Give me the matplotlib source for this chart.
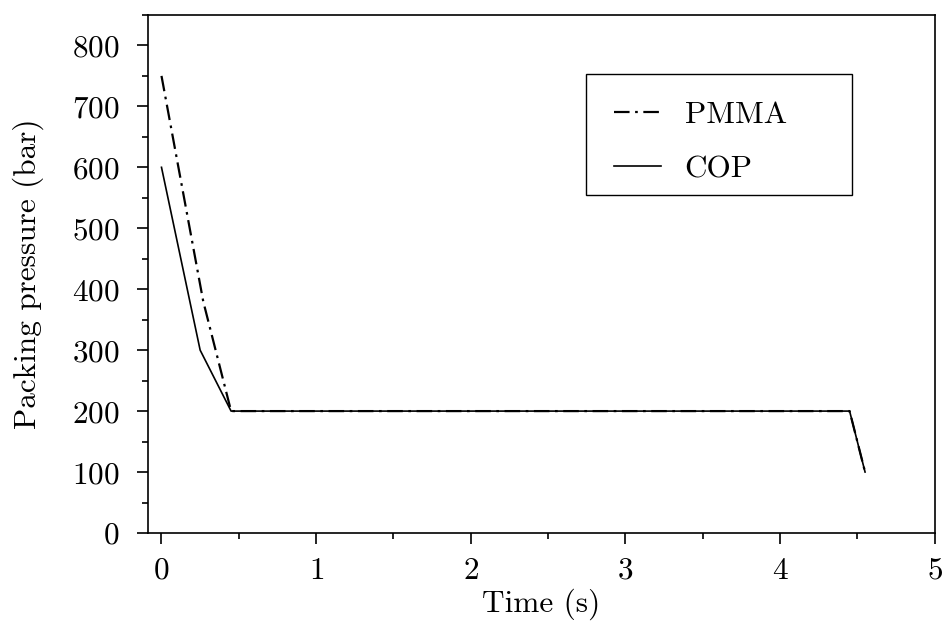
import matplotlib
matplotlib.use("Agg")
import matplotlib.pyplot as plt
from matplotlib.patches import Rectangle
from matplotlib.ticker import MultipleLocator

plt.rcParams["font.family"] = "serif"
plt.rcParams["font.serif"] = ["cmr10"]
plt.rcParams["mathtext.fontset"] = "cm"
plt.rcParams["axes.unicode_minus"] = False
plt.rcParams["axes.formatter.use_mathtext"] = True

# packing pressure profiles (time in s, pressure in bar)
t_pmma = [0.0, 0.27, 0.45, 4.45, 4.55]
p_pmma = [750, 380, 200, 200, 100]
t_cop = [0.0, 0.25, 0.45, 4.45, 4.55]
p_cop = [600, 300, 200, 200, 100]

FS = 22.5

fig = plt.figure(figsize=(9.46, 6.23), dpi=100)
ax = fig.add_axes([0.156, 0.1445, 0.832, 0.8315])

ax.plot(t_pmma, p_pmma, color="black", lw=1.6, linestyle=(0, (7, 2.5, 1.2, 2.5)), label="PMMA")
ax.plot(t_cop, p_cop, color="black", lw=1.2, label="COP")

ax.set_xlim(-0.09, 5)
ax.set_ylim(0, 850)
ax.xaxis.set_major_locator(MultipleLocator(1))
ax.xaxis.set_minor_locator(MultipleLocator(0.5))
ax.yaxis.set_major_locator(MultipleLocator(100))
ax.yaxis.set_minor_locator(MultipleLocator(50))
ax.tick_params(which="both", direction="out", top=False, right=False, labelsize=FS, width=1.2)
ax.tick_params(which="major", length=8)
ax.tick_params(which="minor", length=4.5)
ax.tick_params(axis="x", which="major", pad=9)
ax.tick_params(axis="y", which="major", pad=12)
for s in ax.spines.values():
    s.set_linewidth(1.2)

ax.set_xlabel("Time (s)", fontsize=FS, labelpad=3)
ax.set_ylabel("Packing pressure (bar)", fontsize=FS, labelpad=20)

# legend entries without their own frame; box drawn separately
leg = ax.legend(loc="upper left", bbox_to_anchor=(0.593, 0.834), borderaxespad=0,
                fontsize=FS, frameon=False, handlelength=1.5, borderpad=0,
                labelspacing=0.85, handletextpad=0.75)
ax.add_patch(Rectangle((0.5565, 0.6525), 0.338, 0.2335, transform=ax.transAxes,
                       fill=False, edgecolor="black", lw=1.0, zorder=5))

fig.savefig("out.png", dpi=100)
